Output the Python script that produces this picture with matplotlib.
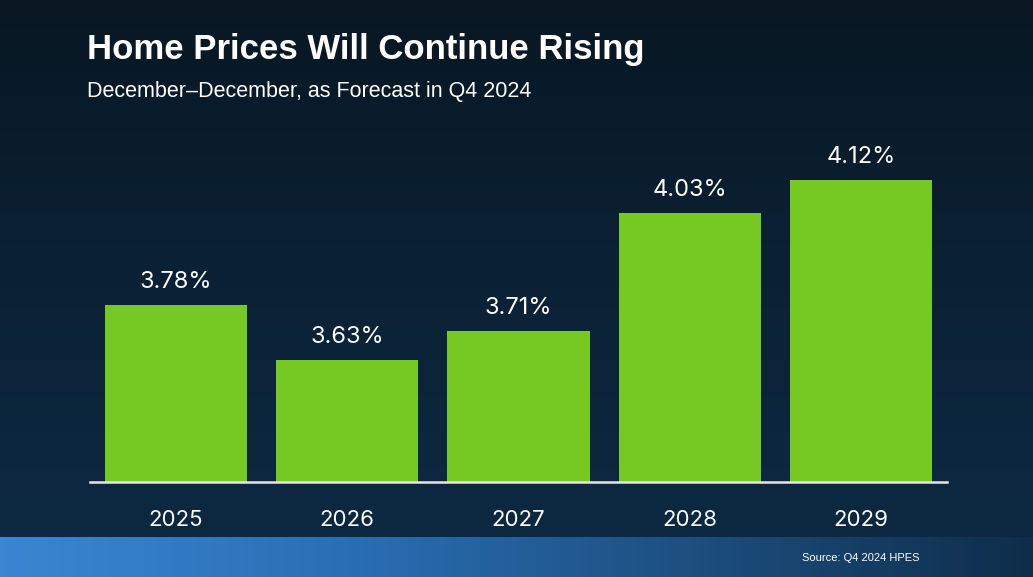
import numpy as np
import matplotlib.pyplot as plt
from matplotlib.colors import LinearSegmentedColormap

# data
years = ['2025', '2026', '2027', '2028', '2029']
growth = [3.78, 3.63, 3.71, 4.03, 4.12]
labels = ['3.78%', '3.63%', '3.71%', '4.03%', '4.12%']

W, H = 1033, 577
fig = plt.figure(figsize=(W / 100, H / 100), dpi=100)

# background gradient (top dark -> bottom slightly bluer)
bg = fig.add_axes([0, 0, 1, 1])
bg.set_axis_off()
cmap_bg = LinearSegmentedColormap.from_list('bg', ['#081722', '#0b2236', '#0d2a44'])
grad = np.linspace(0, 1, 256).reshape(-1, 1)
bg.imshow(grad, aspect='auto', cmap=cmap_bg, extent=[0, 1, 0, 1], origin='upper')
bg.set_xlim(0, 1)
bg.set_ylim(0, 1)

# bottom band
band_h = 40 / H
cmap_band = LinearSegmentedColormap.from_list('band', ['#3a86d2', '#2a6fb5', '#1d4f80', '#0e2d4a'])
hgrad = np.linspace(0, 1, 256).reshape(1, -1)
bg.imshow(hgrad, aspect='auto', cmap=cmap_band, extent=[0, 1, 0, band_h], origin='lower')
bg.text(920 / W, 1 - 558 / H, 'Source: Q4 2024 HPES', color='white', fontsize=8,
        family='Liberation Sans', ha='right', va='center')

bg.text(87 / W, 1 - 49 / H, 'Home Prices Will Continue Rising', color='white',
        fontsize=25, fontweight='bold', family='Liberation Sans', ha='left', va='center')
bg.text(87 / W, 1 - 91 / H, 'December\u2013December, as Forecast in Q4 2024', color='white',
        fontsize=15.5, family='Liberation Sans', ha='left', va='center')

# main chart
ax = fig.add_axes([90 / W, 1 - 482 / H, 857 / W, 332 / H])
ax.set_facecolor('none')
x = np.arange(len(years))
base = 3.3
bars = ax.bar(x, [g - base for g in growth], bottom=base, width=0.83, color='#76c823')
ax.set_xlim(-0.5, 4.5)
ax.set_ylim(3.3, 4.2)

for xi, g, lab in zip(x, growth, labels):
    ax.text(xi, g + 0.062, lab, color='white', fontsize=17, family='Inter',
            ha='center', va='center')

for s in ['top', 'right', 'left']:
    ax.spines[s].set_visible(False)
ax.spines['bottom'].set_color('#e6e6e6')
ax.spines['bottom'].set_linewidth(1.8)
ax.set_yticks([])
ax.set_xticks(x)
ax.set_xticklabels(years, color='white', fontsize=16, family='Inter')
ax.tick_params(axis='x', length=0, pad=20)

fig.savefig('out.png', dpi=100)
